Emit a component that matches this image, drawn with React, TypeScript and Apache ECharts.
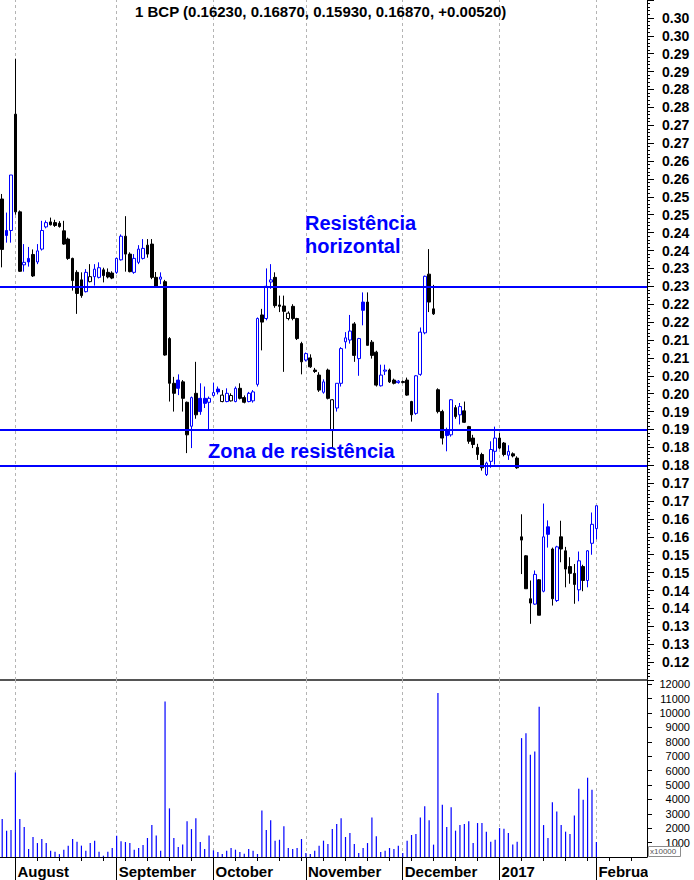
import { useEffect, useRef } from "react";
import * as echarts from "echarts";

const FONT = "'Liberation Sans', Arial, Helvetica, sans-serif";
const BLUE = "#0000ff";
const BLACK = "#000000";

// Session calendar: weekdays from the first visible session, enough slots to run into February.
const FIRST_SESSION = "2016-07-27";
const SESSION_SLOTS = 147;

// Daily OHLC of BCP (EUR)
const openPx = [
  0.2544, 0.2456, 0.2456, 0.2781, 0.2508, 0.236, 0.2378, 0.2389, 0.2368, 0.2404,
  0.2466, 0.248, 0.2478, 0.2476, 0.2455, 0.2432, 0.2378, 0.2339, 0.2318, 0.2285,
  0.2313, 0.2327, 0.2325, 0.2346, 0.2339, 0.2337, 0.2339, 0.2374, 0.244, 0.239,
  0.2339, 0.2367, 0.2378, 0.2415, 0.2418, 0.2325, 0.232, 0.2313, 0.2154, 0.2029,
  0.2038, 0.2033, 0.1976, 0.1909, 0.2001, 0.1987, 0.1987, 0.1976, 0.1995, 0.2013,
  0.1978, 0.1978, 0.198, 0.1978, 0.2015, 0.1989, 0.1978, 0.198, 0.2026, 0.222,
  0.221, 0.2312, 0.2325, 0.2248, 0.2245, 0.221, 0.2244, 0.221, 0.214, 0.2094,
  0.21, 0.2066, 0.2052, 0.2004, 0.2066, 0.1897, 0.196, 0.2029, 0.2145, 0.215,
  0.2195, 0.2098, 0.2256, 0.2256, 0.2144, 0.2116, 0.2022, 0.2063, 0.2066, 0.2038,
  0.2031, 0.2031, 0.2038, 0.1978, 0.1945, 0.2054, 0.217, 0.2334, 0.2237, 0.2011,
  0.195, 0.1899, 0.1885, 0.1961, 0.1941, 0.1952, 0.1908, 0.1876, 0.185, 0.183,
  0.1774, 0.1811, 0.1839, 0.1876, 0.1862, 0.1828, 0.1832, 0.182, 0.16, 0.1547,
  0.1427, 0.1412, 0.148, 0.1448, 0.1628, 0.1566, 0.1422, 0.16, 0.1561, 0.1517,
  0.1498, 0.1452, 0.1517, 0.1478, 0.1582, 0.1623,
];
const highPx = [
  0.2558, 0.2506, 0.2611, 0.2936, 0.2512, 0.2418, 0.241, 0.2403, 0.2418, 0.2483,
  0.2484, 0.2492, 0.2486, 0.2482, 0.2483, 0.2436, 0.238, 0.2345, 0.2339, 0.2348,
  0.2362, 0.2362, 0.2367, 0.2352, 0.235, 0.2342, 0.238, 0.2445, 0.2496, 0.2395,
  0.239, 0.2415, 0.2432, 0.2432, 0.2432, 0.234, 0.2339, 0.2318, 0.2158, 0.2047,
  0.2054, 0.2038, 0.1978, 0.1992, 0.2089, 0.2029, 0.202, 0.1992, 0.2031, 0.202,
  0.201, 0.2015, 0.2001, 0.202, 0.2029, 0.1995, 0.2005, 0.201, 0.2213, 0.2237,
  0.235, 0.2362, 0.2339, 0.2274, 0.2274, 0.223, 0.225, 0.2212, 0.2145, 0.2115,
  0.211, 0.2072, 0.206, 0.204, 0.207, 0.1985, 0.2029, 0.213, 0.2172, 0.222,
  0.22, 0.2156, 0.2283, 0.2283, 0.215, 0.212, 0.2081, 0.2081, 0.207, 0.2042,
  0.2038, 0.2037, 0.2045, 0.198, 0.2052, 0.2185, 0.233, 0.2404, 0.2304, 0.2015,
  0.1955, 0.1905, 0.1985, 0.1968, 0.1974, 0.1978, 0.191, 0.1885, 0.186, 0.1835,
  0.181, 0.1867, 0.1908, 0.189, 0.1865, 0.1856, 0.1836, 0.1825, 0.1663, 0.1549,
  0.1478, 0.1506, 0.1482, 0.1693, 0.1646, 0.157, 0.1575, 0.1645, 0.1572, 0.1543,
  0.1524, 0.1559, 0.1522, 0.1563, 0.1668, 0.1687,
];
const lowPx = [
  0.2353, 0.2422, 0.2422, 0.25, 0.234, 0.2341, 0.2355, 0.2326, 0.2362, 0.24,
  0.2462, 0.247, 0.2466, 0.2464, 0.2416, 0.2374, 0.2288, 0.2223, 0.2268, 0.2283,
  0.2311, 0.2302, 0.2322, 0.2311, 0.2322, 0.232, 0.2335, 0.2372, 0.2341, 0.2339,
  0.2335, 0.2362, 0.2375, 0.238, 0.232, 0.2298, 0.2306, 0.2106, 0.1978, 0.195,
  0.1996, 0.195, 0.1834, 0.1848, 0.193, 0.1941, 0.196, 0.1899, 0.1992, 0.1998,
  0.1976, 0.1976, 0.1978, 0.1976, 0.1984, 0.1973, 0.1976, 0.1975, 0.202, 0.2121,
  0.2205, 0.2293, 0.224, 0.2228, 0.2061, 0.2205, 0.2205, 0.215, 0.2054, 0.209,
  0.2072, 0.2058, 0.2005, 0.2, 0.1984, 0.1848, 0.195, 0.202, 0.2126, 0.214,
  0.2089, 0.205, 0.2191, 0.2135, 0.2098, 0.202, 0.202, 0.2052, 0.203, 0.2026,
  0.2028, 0.2029, 0.1994, 0.1922, 0.1941, 0.205, 0.2166, 0.2228, 0.222, 0.1945,
  0.1858, 0.1839, 0.188, 0.193, 0.1914, 0.1918, 0.186, 0.1848, 0.1815, 0.1785,
  0.177, 0.1793, 0.1802, 0.1845, 0.1825, 0.1815, 0.1822, 0.179, 0.1496, 0.1455,
  0.1357, 0.141, 0.1381, 0.1445, 0.157, 0.1408, 0.1418, 0.1529, 0.1459, 0.1469,
  0.1413, 0.142, 0.1448, 0.1459, 0.155, 0.1593,
];
const closePx = [
  0.2403, 0.2442, 0.2611, 0.2508, 0.2342, 0.2367, 0.2368, 0.2329, 0.2399, 0.2456,
  0.2478, 0.2472, 0.247, 0.2467, 0.2418, 0.2378, 0.2316, 0.228, 0.2274, 0.2339,
  0.2327, 0.2348, 0.2352, 0.233, 0.2326, 0.2323, 0.2378, 0.244, 0.239, 0.2341,
  0.2378, 0.2404, 0.2406, 0.239, 0.2325, 0.2299, 0.2326, 0.2108, 0.2029, 0.2001,
  0.2015, 0.1987, 0.1885, 0.1989, 0.1941, 0.195, 0.1973, 0.1987, 0.2003, 0.2005,
  0.1996, 0.2001, 0.1995, 0.2015, 0.1987, 0.1976, 0.2001, 0.2005, 0.221, 0.22,
  0.23, 0.2318, 0.2246, 0.2244, 0.223, 0.2225, 0.221, 0.2154, 0.2089, 0.2112,
  0.2075, 0.2062, 0.201, 0.2033, 0.1987, 0.1983, 0.2029, 0.2126, 0.2156, 0.2175,
  0.2107, 0.2154, 0.2233, 0.2135, 0.2107, 0.2024, 0.2052, 0.2066, 0.2033, 0.2029,
  0.2035, 0.2034, 0.1996, 0.1941, 0.205, 0.2172, 0.2328, 0.2256, 0.2223, 0.195,
  0.1876, 0.1883, 0.1983, 0.1936, 0.1964, 0.192, 0.1867, 0.1858, 0.183, 0.1793,
  0.1806, 0.1844, 0.1876, 0.1848, 0.183, 0.1839, 0.1826, 0.1793, 0.1591, 0.1455,
  0.1415, 0.1495, 0.1381, 0.16, 0.1607, 0.1427, 0.1572, 0.1566, 0.151, 0.1498,
  0.1467, 0.1533, 0.1478, 0.1561, 0.1635, 0.1687,
];

// Daily volume, in units of 10 000 shares
const volume = [
  2640, 1830, 1875, 5880, 2640, 2080, 555, 1390, 970, 1250,
  970, 440, 370, 200, 510, 790, 1250, 1065, 790, 440,
  970, 1135, 370, 90, 370, 625, 1480, 1090, 1040, 970,
  510, 625, 830, 1320, 2220, 1500, 440, 10800, 3380, 1320,
  690, 860, 2480, 1940, 2690, 1040, 555, 1500, 460, 350,
  210, 440, 625, 510, 350, 230, 555, 440, 210, 3240,
  1875, 2550, 1135, 1200, 2130, 625, 555, 625, 1250, 280,
  210, 440, 790, 1135, 900, 1940, 2290, 2690, 1390, 1670,
  900, 280, 625, 970, 2750, 1435, 350, 440, 625, 555,
  790, 280, 1135, 1530, 1600, 2750, 3520, 2550, 860, 11400,
  3630, 2080, 3450, 1830, 2220, 2290, 2480, 970, 2360, 2360,
  1760, 1065, 1200, 2010, 1970, 1670, 860, 1065, 8260, 8600,
  7100, 7330, 10440, 2220, 1320, 3800, 3170, 2220, 1760, 1600,
  2890, 4750, 3980, 5510, 4680, 1040,
];

// Drawn support / resistance levels
const resistanceLevels = [0.2344, 0.19, 0.179];

const monthNames = [
  "January", "February", "March", "April", "May", "June",
  "July", "August", "September", "October", "November", "December",
];

const priceScale = { min: 0.12, max: 0.31, step: 0.005 };
const volumeScale = { min: 0, max: 12300, step: 1000 };

function weekdaysFrom(start: string, count: number): string[] {
  const out: string[] = [];
  const d = new Date(start + "T00:00:00Z");
  while (out.length < count) {
    const wd = d.getUTCDay();
    if (wd !== 0 && wd !== 6) out.push(d.toISOString().slice(0, 10));
    d.setUTCDate(d.getUTCDate() + 1);
  }
  return out;
}

const sessions = weekdaysFrom(FIRST_SESSION, SESSION_SLOTS);
const isMonthStart = (i: number) =>
  i > 0 && sessions[i].slice(5, 7) !== sessions[i - 1].slice(5, 7);
const isMonday = (i: number) =>
  new Date(sessions[i] + "T00:00:00Z").getUTCDay() === 1;
const monthStarts = sessions.filter((_, i) => isMonthStart(i));
const monthLabel = (d: string) => {
  const m = Number(d.slice(5, 7));
  return m === 1 ? d.slice(0, 4) : monthNames[m - 1];
};

// Hollow body when the session closed above its open, filled otherwise;
// blue when the close is at or above the previous close, black when below.
const candles = openPx.map((o, i) => {
  const c = closePx[i];
  const prev = i === 0 ? o : closePx[i - 1];
  const col = c >= prev ? BLUE : BLACK;
  const fill = c >= o ? "#ffffff" : col;
  return {
    value: [o, c, lowPx[i], highPx[i]],
    itemStyle: { color: fill, color0: fill, borderColor: col, borderColor0: col },
  };
});

const last = closePx.length - 1;
const change = closePx[last] - closePx[last - 1];
const headline = `1 BCP (${openPx[last].toFixed(5)}, ${highPx[last].toFixed(5)}, ${lowPx[
  last
].toFixed(5)}, ${closePx[last].toFixed(5)}, ${change >= 0 ? "+" : ""}${change.toFixed(5)})`;

const monthGridLines = monthStarts.map((d) => ({
  xAxis: d,
  lineStyle: { color: "#b4b4b4", width: 1, type: [3, 3] as any },
}));

const gridLineMarker = {
  silent: true,
  z: 1,
  symbol: ["none", "none"],
  label: { show: false },
  emphasis: { disabled: true },
  data: monthGridLines,
};

export default function App() {
  const ref = useRef<HTMLDivElement>(null);

  useEffect(() => {
    if (!ref.current) return;
    const chart = echarts.init(ref.current, undefined, { renderer: "svg" });

    const option: any = {
      animation: false,
      textStyle: { fontFamily: FONT },
      grid: [
        { left: 0, right: 47, top: -4, height: 684 },
        { left: 0, right: 47, top: 680, height: 177 },
      ],
      xAxis: [
        {
          type: "category",
          gridIndex: 0,
          data: sessions,
          boundaryGap: true,
          axisLine: { show: true, lineStyle: { color: "#555555", width: 2 } },
          axisTick: { show: false },
          axisLabel: { show: false },
          splitLine: { show: false },
        },
        {
          type: "category",
          gridIndex: 1,
          data: sessions,
          boundaryGap: true,
          position: "bottom",
          axisLine: { show: true, lineStyle: { color: BLACK, width: 1 } },
          axisTick: {
            show: true,
            alignWithLabel: true,
            length: 4,
            interval: (i: number) => isMonday(i) && !isMonthStart(i),
            lineStyle: { color: BLACK },
          },
          axisLabel: { show: false },
          splitLine: { show: false },
        },
        {
          type: "category",
          gridIndex: 1,
          data: sessions,
          boundaryGap: true,
          position: "bottom",
          axisLine: { show: false },
          axisTick: {
            show: true,
            alignWithLabel: true,
            length: 23,
            interval: (i: number) => isMonthStart(i),
            lineStyle: { color: BLACK },
          },
          axisLabel: {
            show: true,
            interval: (i: number) => isMonthStart(i),
            formatter: (v: string) => monthLabel(v),
            align: "left",
            margin: 7,
            padding: [0, 0, 0, 2],
            fontSize: 15,
            fontWeight: "bold",
            color: BLACK,
            fontFamily: FONT,
          },
          splitLine: { show: false },
        },
      ],
      yAxis: [
        {
          type: "value",
          gridIndex: 0,
          position: "right",
          min: priceScale.min,
          max: priceScale.max,
          interval: priceScale.step,
          axisLine: { show: true, lineStyle: { color: BLACK, width: 1 } },
          axisTick: { show: true, length: 7, lineStyle: { color: BLACK } },
          minorTick: { show: true, splitNumber: 5, length: 3, lineStyle: { color: BLACK } },
          splitLine: { show: false },
          axisLabel: {
            showMinLabel: false,
            showMaxLabel: false,
            formatter: (v: number) => (Math.floor(v * 100 + 1e-4) / 100).toFixed(2),
            fontSize: 14,
            fontWeight: "bold",
            color: BLACK,
            fontFamily: FONT,
            margin: 15,
          },
        },
        {
          type: "value",
          gridIndex: 1,
          position: "right",
          min: volumeScale.min,
          max: volumeScale.max,
          interval: volumeScale.step,
          axisLine: { show: true, lineStyle: { color: BLACK, width: 1 } },
          axisTick: { show: true, length: 5, lineStyle: { color: BLACK } },
          splitLine: { show: false },
          axisLabel: {
            showMinLabel: false,
            showMaxLabel: false,
            formatter: (v: number) => String(v),
            fontSize: 11,
            color: BLACK,
            fontFamily: FONT,
            align: "right",
            margin: 43,
          },
        },
      ],
      series: [
        {
          // carries only the dashed month separators of the price panel, beneath the candles
          type: "line",
          xAxisIndex: 0,
          yAxisIndex: 0,
          data: [],
          z: 1,
          silent: true,
          markLine: gridLineMarker,
        },
        {
          type: "candlestick",
          xAxisIndex: 0,
          yAxisIndex: 0,
          data: candles,
          barWidth: 3.2,
          z: 3,
          itemStyle: { borderWidth: 1 },
          emphasis: { disabled: true },
          markLine: {
            silent: true,
            z: 5,
            symbol: ["none", "none"],
            label: { show: false },
            emphasis: { disabled: true },
            data: resistanceLevels.map((v) => ({
              yAxis: v,
              lineStyle: { color: BLUE, width: 2, type: "solid" },
            })),
          },
        },
        {
          type: "bar",
          xAxisIndex: 1,
          yAxisIndex: 1,
          data: volume,
          barWidth: 1.2,
          z: 3,
          itemStyle: { color: BLUE },
          emphasis: { disabled: true },
          markLine: gridLineMarker,
        },
      ],
      graphic: [
        {
          type: "text",
          x: 135,
          y: 11.5,
          z: 100,
          style: {
            text: headline,
            fill: BLACK,
            font: `bold 15px ${FONT}`,
            verticalAlign: "middle",
          },
        },
        {
          type: "text",
          x: 305,
          y: 223,
          z: 100,
          style: { text: "Resistência", fill: BLUE, font: `bold 20px ${FONT}`, verticalAlign: "middle" },
        },
        {
          type: "text",
          x: 305,
          y: 246,
          z: 100,
          style: { text: "horizontal", fill: BLUE, font: `bold 20px ${FONT}`, verticalAlign: "middle" },
        },
        {
          type: "text",
          x: 208,
          y: 451,
          z: 100,
          style: { text: "Zona de resistência", fill: BLUE, font: `bold 20px ${FONT}`, verticalAlign: "middle" },
        },
        {
          type: "rect",
          z: 100,
          shape: { x: 648, y: 861, width: 46, height: 19 },
          style: { fill: "#ffffff" },
        },
        {
          type: "rect",
          z: 100,
          shape: { x: 648.5, y: 846.5, width: 32, height: 10 },
          style: { fill: "#ffffff", stroke: "#8c8c8c", lineWidth: 1 },
        },
        {
          type: "text",
          x: 650,
          y: 851.5,
          z: 101,
          style: { text: "x10000", fill: "#555555", font: `8px ${FONT}`, verticalAlign: "middle" },
        },
      ],
    };

    chart.setOption(option);
    return () => chart.dispose();
  }, []);

  return (
    <div
      ref={ref}
      style={{ position: "fixed", left: 0, top: 0, width: 694, height: 880, background: "#ffffff" }}
    />
  );
}
